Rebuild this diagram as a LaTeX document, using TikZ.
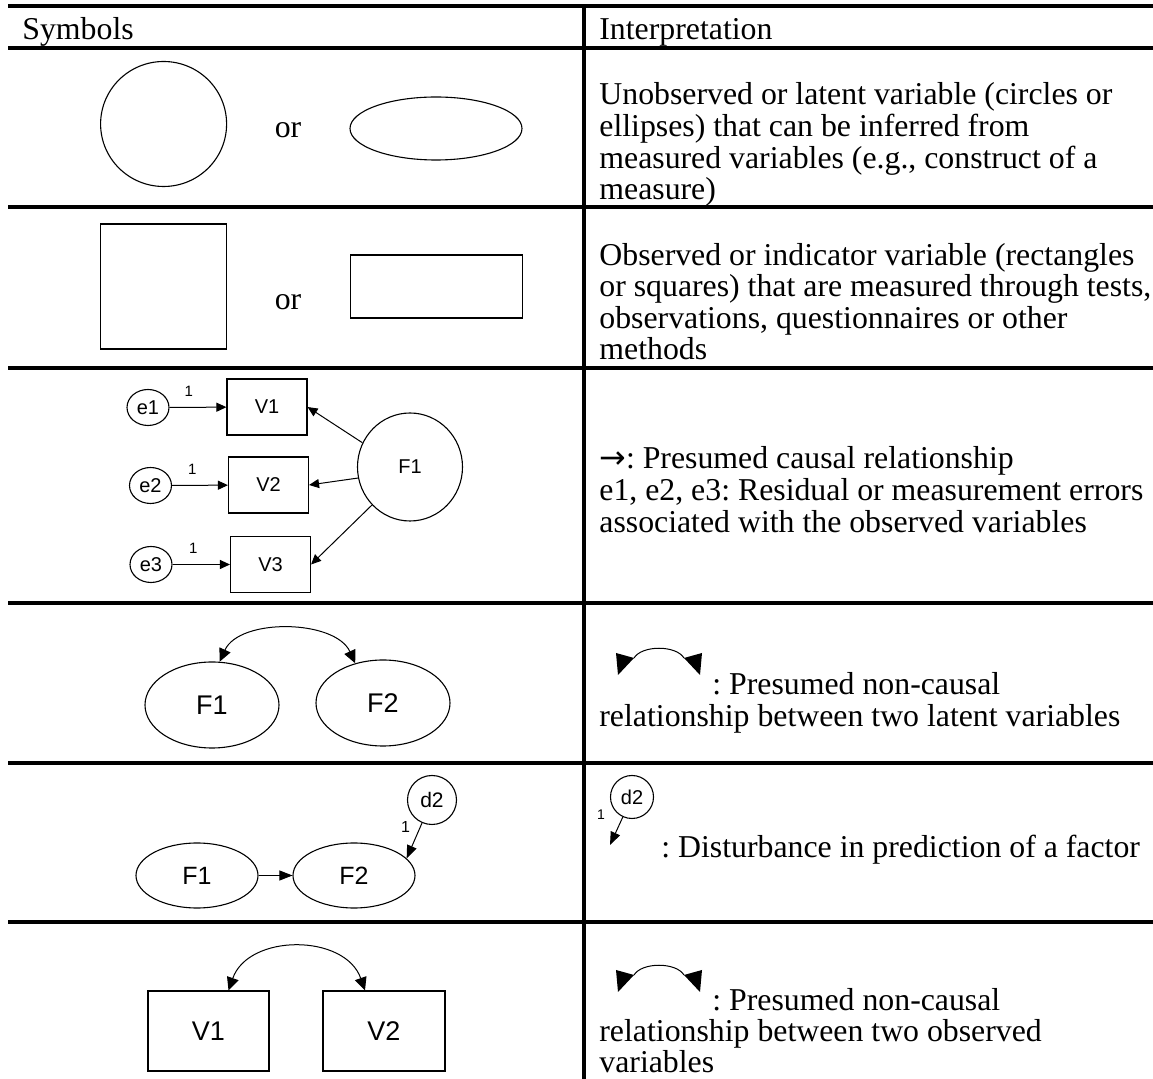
\documentclass[tikz,border=0pt]{standalone}
\usepackage{fontspec}
\setmainfont{Liberation Serif}
\newfontfamily\diagfont{Liberation Sans}
\newfontfamily\symfont{DejaVu Sans}
\usetikzlibrary{arrows.meta,shapes.geometric,calc}
\frenchspacing

\begin{document}
\begin{tikzpicture}[x=0.5pt,y=-0.5pt,
  rulethick/.style={line width=1.6pt},
  body/.style={anchor=base west,inner sep=0pt,font=\fontsize{15.9}{16}\selectfont},
  latent/.style={draw,ellipse,inner sep=0pt,line width=0.55pt},
  observed/.style={draw,rectangle,inner sep=0pt,line width=0.55pt},
  smalllab/.style={font=\diagfont\fontsize{10}{11}\selectfont},
  midlab/.style={font=\diagfont\fontsize{12.5}{14}\selectfont},
  biglab/.style={font=\diagfont\fontsize{13.5}{15}\selectfont},
  wt/.style={font=\diagfont\fontsize{7.5}{8}\selectfont,inner sep=0pt},
  causal/.style={-{Triangle[length=5pt,width=4.5pt]},line width=0.5pt},
  causalbig/.style={-{Triangle[length=6.5pt,width=5pt]},line width=0.5pt},
  twoway/.style={{Triangle[length=6.5pt,width=6pt]}-{Triangle[length=6.5pt,width=6pt]},line width=0.5pt}
]
\useasboundingbox (0,0) rectangle (1153,1079);

% table rules
\draw[line width=1.8pt] (8,6) -- (1153,6);
\foreach \yy in {48,207,368,603,763,922}
  \draw[rulethick] (8,\yy) -- (1153,\yy);
\draw[rulethick] (584,5) -- (584,1079);

% header
\node[body] (hsym) at (22,40) {Symbols};
\node[body] (hint) at (599,40) {Interpretation};

% row 1: latent variable shapes
\node[latent,minimum width=63pt,minimum height=62.5pt] (circ) at (163.6,124) {};
\node[body,anchor=base] (or1) at (288,138) {or};
\node[latent,minimum width=86pt,minimum height=31.5pt] (ell) at (436,128.5) {};
\node[body] (t1a) at (599,105) {Unobserved or latent variable (circles or};
\node[body] (t1b) at (599,137) {ellipses) that can be inferred from};
\node[body] (t1c) at (599,169) {measured variables (e.g., construct of a};
\node[body] (t1d) at (599,200) {measure)};

% row 2: observed variable shapes
\node[observed,minimum width=63pt,minimum height=62.5pt] (sq) at (163.6,286.5) {};
\node[body,anchor=base] (or2) at (288,310) {or};
\node[observed,minimum width=86pt,minimum height=31.5pt] (rect) at (436.5,286.5) {};
\node[body] (t2a) at (599,266) {Observed or indicator variable (rectangles};
\node[body] (t2b) at (599,297) {or squares) that are measured through tests,};
\node[body] (t2c) at (599,329) {observations, questionnaires or other};
\node[body] (t2d) at (599,360) {methods};

% row 3: measurement model
\node[latent,minimum width=21pt,minimum height=18pt,smalllab] (e1) at (148,407.5) {e1};
\node[latent,minimum width=21pt,minimum height=18pt,smalllab] (e2) at (150.5,485.5) {e2};
\node[latent,minimum width=21pt,minimum height=18pt,smalllab] (e3) at (151,564.5) {e3};
\node[observed,minimum width=40pt,minimum height=28pt,smalllab] (v1) at (267,407) {V1};
\node[observed,minimum width=40pt,minimum height=28pt,smalllab] (v2) at (268.5,485) {V2};
\node[observed,minimum width=40pt,minimum height=28pt,smalllab] (v3) at (270.5,564.5) {V3};
\node[latent,minimum width=52.5pt,minimum height=54pt,smalllab] (fa) at (410,467) {F1};
\draw[causal] (e1) -- (v1) node[wt,pos=0.34,above=5pt] {1};
\draw[causal] (e2) -- (v2) node[wt,pos=0.36,above=5pt] {1};
\draw[causal] (e3) -- (v3) node[wt,pos=0.36,above=5pt] {1};
\draw[causal] (fa.153) -- (v1.east);
\draw[causal] (fa.192) -- (v2.east);
\draw[causal] (fa.225) -- (v3.east);
\node[body] (t3a) at (599,469) {{\symfont →}: Presumed causal relationship};
\node[body] (t3b) at (599,501) {e1, e2, e3: Residual or measurement errors};
\node[body] (t3c) at (599,533) {associated with the observed variables};

% row 4: covariance between latent variables
\node[latent,minimum width=67pt,minimum height=43pt,biglab] (fb1) at (212,705) {F1};
\node[latent,minimum width=67pt,minimum height=43pt,biglab] (fb2) at (383,703) {F2};
\draw[twoway] (fb1.80) .. controls +(20,-44) and +(-20,-44) .. (fb2.125);
\fill (616,653) -- (634,658) -- (618,675) -- cycle;
\fill (702,653) -- (684,658) -- (700,675) -- cycle;
\draw[line width=0.5pt] (634,658) .. controls +(8,-13) and +(-8,-13) .. (684,658);
\node[body] (t4a) at (712,695) {: Presumed non-causal};
\node[body] (t4b) at (599,727) {relationship between two latent variables};

% row 5: disturbance term
\node[latent,minimum width=61pt,minimum height=32.5pt,midlab] (fc1) at (197,875.5) {F1};
\node[latent,minimum width=61pt,minimum height=32.5pt,midlab] (fc2) at (354,875.5) {F2};
\node[latent,minimum width=24.5pt,minimum height=24.5pt,font=\diagfont\fontsize{10.5}{12}\selectfont] (dd) at (432,800) {d2};
\draw[causalbig] (fc1) -- (fc2);
\draw[causalbig] (dd) -- (fc2.18) node[pos=0.1,left=5pt,font=\diagfont\fontsize{8}{9}\selectfont,inner sep=0pt] {1};
\node[latent,minimum width=21.5pt,minimum height=21.5pt,font=\diagfont\fontsize{10}{11}\selectfont] (dsym) at (632,797) {d2};
\coordinate (dtip) at (610,845);
\draw[causalbig] (dsym) -- (dtip);
\node[font=\diagfont\fontsize{7}{8}\selectfont,inner sep=0pt] (dwt) at (601,815) {1};
\node[body] (t5a) at (661,858) {: Disturbance in prediction of a factor};

% row 6: covariance between observed variables
\node[observed,minimum width=60.5pt,minimum height=40pt,biglab] (vd1) at (208.5,1031) {V1};
\node[observed,minimum width=61pt,minimum height=40pt,biglab] (vd2) at (384,1031) {V2};
\draw[twoway] ($(vd1.north)+(20,0)$) .. controls +(20,-57) and +(-20,-57) .. ($(vd2.north)+(-19,0)$);
\fill (616,970) -- (634,975) -- (618,992) -- cycle;
\fill (702,970) -- (684,975) -- (700,992) -- cycle;
\draw[line width=0.5pt] (634,975) .. controls +(8,-13) and +(-8,-13) .. (684,975);
\node[body] (t6a) at (712,1011) {: Presumed non-causal};
\node[body] (t6b) at (599,1042) {relationship between two observed};
\node[body] (t6c) at (599,1073) {variables};
\end{tikzpicture}
\end{document}
